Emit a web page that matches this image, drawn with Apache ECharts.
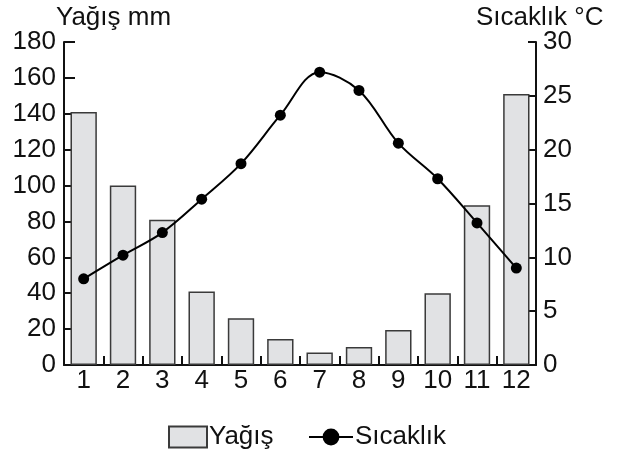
<!DOCTYPE html>
<html><head><meta charset="utf-8">
<script src="https://cdn.jsdelivr.net/npm/echarts@6/dist/echarts.min.js"></script>
<style>html,body{margin:0;padding:0;background:#fff}#c{width:624px;height:452px}</style>
</head><body><div id="c"></div>
<script>
const months = ['1','2','3','4','5','6','7','8','9','10','11','12'];
const yagis = [141, 100, 81, 41, 26, 14.5, 7, 10, 19.5, 40, 89, 151];
const sicaklik = [8.0, 10.2, 12.3, 15.4, 18.7, 23.2, 27.2, 25.5, 20.6, 17.3, 13.2, 9.0];
const leftTitle = 'Yağış mm';
const rightTitle = 'Sıcaklık °C';
const barName = 'Yağış';
const lineName = 'Sıcaklık';

const FONT = '"Liberation Sans", Arial, sans-serif';
const FS = 26;
const chart = echarts.init(document.getElementById('c'), null, {renderer: 'canvas'});
chart.setOption({
  animation: false,
  backgroundColor: '#fff',
  title: [
    {text: leftTitle, left: 51, top: 0, textStyle: {fontFamily: FONT, fontSize: FS, fontWeight: 'normal', color: '#111'}},
    {text: rightTitle, left: 471, top: 0, textStyle: {fontFamily: FONT, fontSize: FS, fontWeight: 'normal', color: '#111'}}
  ],
  grid: {left: 64, right: 88, top: 42, bottom: 87, containLabel: false},
  legend: [
    {data: [{name: barName, icon: 'rect'}], left: 163, top: 419, itemWidth: 38, itemHeight: 21, itemGap: 4,
     textStyle: {fontFamily: FONT, fontSize: FS, color: '#111', padding: [0,0,0,-3]}},
    {data: [{name: lineName}], left: 303, top: 419, itemWidth: 44, itemHeight: 21,
     textStyle: {fontFamily: FONT, fontSize: FS, color: '#111', padding: [0,0,0,-3]}}
  ],
  xAxis: {
    type: 'category', data: months, boundaryGap: true,
    axisLine: {lineStyle: {color: '#111', width: 2}},
    axisTick: {show: true, inside: true, length: 9, alignWithLabel: false, lineStyle: {color: '#111', width: 2}},
    axisLabel: {fontFamily: FONT, fontSize: FS, color: '#111', margin: 3}
  },
  yAxis: [
    {type: 'value', min: 0, max: 180, interval: 20, position: 'left',
     axisLine: {show: true, lineStyle: {color: '#111', width: 2}},
     axisTick: {show: true, inside: true, length: 11, lineStyle: {color: '#111', width: 2}},
     axisLabel: {fontFamily: FONT, fontSize: FS, color: '#111', margin: 8},
     splitLine: {show: false}},
    {type: 'value', min: 0, max: 30, interval: 5, position: 'right',
     axisLine: {show: true, lineStyle: {color: '#111', width: 2}},
     axisTick: {show: true, inside: true, length: 8, lineStyle: {color: '#111', width: 2}},
     axisLabel: {fontFamily: FONT, fontSize: FS, color: '#111', margin: 7},
     splitLine: {show: false}}
  ],
  series: [
    {name: barName, type: 'bar', yAxisIndex: 0, data: yagis, barCategoryGap: '33%',
     itemStyle: {color: '#e1e2e4', borderColor: '#3a3a3a', borderWidth: 1.5}},
    {name: lineName, type: 'line', yAxisIndex: 1, data: sicaklik, smooth: 0.35,
     symbol: 'circle', symbolSize: 11,
     lineStyle: {color: '#000', width: 2}, itemStyle: {color: '#000'}}
  ]
});
</script></body></html>
